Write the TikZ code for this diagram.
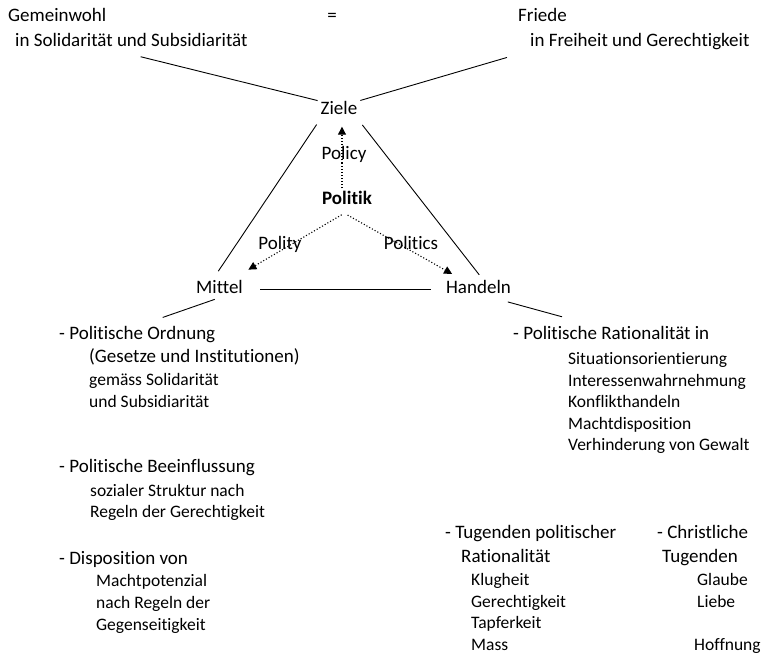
\documentclass[tikz,border=0pt]{standalone}
\usepackage{fontspec}
\setmainfont{Carlito}[Ligatures=NoCommon]
\usetikzlibrary{arrows.meta}
\newcommand{\grossfont}{\fontsize{19pt}{23pt}\selectfont}
\newcommand{\kleinfont}{\fontsize{17.5pt}{21pt}\selectfont}

\begin{document}
\begin{tikzpicture}[x=1pt,y=-1pt]
\tikzstyle{every node}+=[inner sep=0pt]
\tikzstyle{gross}=[font=\grossfont, text height=13pt, text depth=4pt]
\tikzstyle{zeile}=[gross, anchor=west]
\tikzstyle{klein}=[font=\kleinfont, text height=12pt, text depth=3.5pt, anchor=west]
\tikzstyle{linie}=[black, line width=0.9pt]
\tikzstyle{pfeil}=[black, dotted, line width=1.1pt, -{Triangle[length=8pt,width=8pt]}]
\useasboundingbox (0,0) rectangle (766,656);
\node [zeile] (gemein) at (8,17) {Gemeinwohl};
\node [zeile] (soli) at (15,42) {in Solidarität und Subsidiarität};
\node [gross] (gleich) at (332,17) {=};
\node [zeile] (friede) at (518,17) {Friede};
\node [zeile] (frei) at (530,42) {in Freiheit und Gerechtigkeit};
\node [gross] (ziele) at (339,110) {Ziele};
\node [gross] (policy) at (344,155) {Policy};
\node [gross, font=\grossfont\bfseries] (politik) at (347,200) {Politik};
\node [gross] (polity) at (280,245) {Polity};
\node [gross] (politics) at (411,245) {Politics};
\node [gross] (mittel) at (219.5,289) {Mittel};
\node [gross] (handeln) at (478.5,289) {Handeln};
\node [zeile] (ordnung) at (59,335) {- Politische Ordnung};
\node [zeile] (gesetze) at (89,358) {(Gesetze und Institutionen)};
\node [klein] (gemaess) at (89,381) {gemäss Solidarität};
\node [klein] (subsid) at (89,403) {und Subsidiarität};
\node [zeile] (beein) at (59,468) {- Politische Beeinflussung};
\node [klein] (struktur) at (90,492) {sozialer Struktur nach};
\node [klein] (regeln) at (90,513) {Regeln der Gerechtigkeit};
\node [zeile] (dispo) at (59,560) {- Disposition von};
\node [klein] (potenzial) at (96,582) {Machtpotenzial};
\node [klein] (nachregeln) at (96,604) {nach Regeln der};
\node [klein] (gegenseit) at (96,626) {Gegenseitigkeit};
\node [zeile] (rational) at (513,335) {- Politische Rationalität in};
\node [klein] (situation) at (568,360) {Situationsorientierung};
\node [klein] (interesse) at (568,382) {Interessenwahrnehmung};
\node [klein] (konflikt) at (568,403) {Konflikthandeln};
\node [klein] (macht) at (568,425) {Machtdisposition};
\node [klein] (gewalt) at (568,446) {Verhinderung von Gewalt};
\node [zeile] (tugpol) at (445,534) {- Tugenden politischer};
\node [zeile] (ratio) at (461,558) {Rationalität};
\node [klein] (klugheit) at (471,581) {Klugheit};
\node [klein] (gerecht) at (471,603) {Gerechtigkeit};
\node [klein] (tapfer) at (471,624) {Tapferkeit};
\node [klein] (mass) at (471,646) {Mass};
\node [zeile] (christ) at (657,534) {- Christliche};
\node [zeile] (tugend) at (662,558) {Tugenden};
\node [klein] (glaube) at (697,581) {Glaube};
\node [klein] (liebe) at (697,603) {Liebe};
\node [klein] (hoffnung) at (694,646) {Hoffnung};
\draw [linie, shorten <=25pt, shorten >=3pt] (soli.-150) -- (ziele.north west);
\draw [linie, shorten <=24pt, shorten >=3pt] (frei.south west) -- (ziele.north east);
\draw [linie, shorten <=7pt, shorten >=11pt] (ziele.south west) -- (mittel.130);
\draw [linie, shorten <=8pt, shorten >=7pt] (ziele.south east) -- (handeln.60);
\draw [linie, shorten <=17pt, shorten >=15pt] (mittel.east) -- (handeln.west);
\draw [linie, shorten <=5pt, shorten >=27pt] (mittel.south) -- (ordnung.north);
\draw [linie, shorten <=16pt, shorten >=36pt] (handeln.-32) -- (rational.149);
\draw [pfeil, shorten <=3pt, shorten >=8pt] (politik.120) -- (politik.120 |- ziele.south);
\draw [pfeil, shorten <=12pt, shorten >=21pt] (politik.-60) -- (mittel.39);
\draw [pfeil, shorten <=13pt, shorten >=13pt] (politik.-141) -- (handeln.150);
\end{tikzpicture}
\end{document}
